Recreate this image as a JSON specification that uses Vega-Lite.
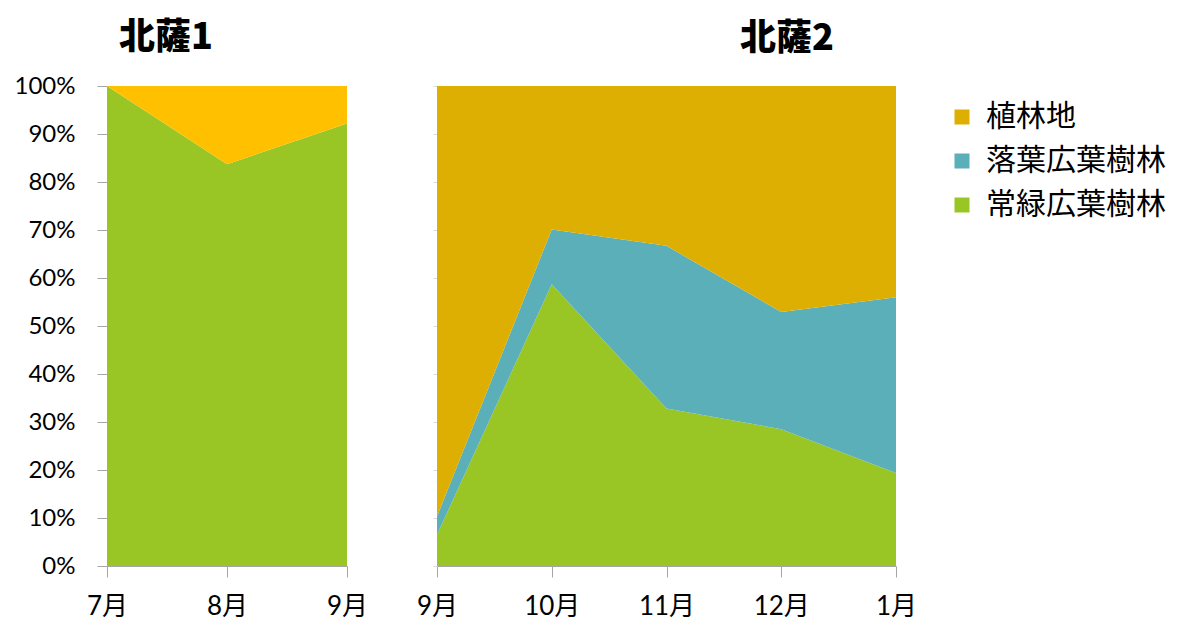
{
  "$schema": "https://vega.github.io/schema/vega-lite/v6.json",
  "padding": {"top": 20, "left": 5, "right": 5, "bottom": 5},
  "background": "white",
  "config": {
    "view": {"stroke": null},
    "font": "Lato",
    "axis": {"domainColor": "#A6A6A6", "tickColor": "#A6A6A6", "labelColor": "#000000", "grid": false, "title": null},
    "area": {"interpolate": "linear"}
  },
  "spacing": 48,
  "resolve": {"scale": {"color": "independent"}},
  "hconcat": [
    {
      "width": 240,
      "height": 480,
      "title": {"text": "北薩1", "anchor": "start", "frame": "group", "dx": 12, "fontSize": 36, "font": "Noto Sans CJK JP", "fontWeight": 900, "offset": 17, "color": "#000000"},
      "data": {"values": [
        {"month": "7月", "type": "常緑広葉樹林", "layer": 1, "share": 1.0},
        {"month": "8月", "type": "常緑広葉樹林", "layer": 1, "share": 0.837},
        {"month": "9月", "type": "常緑広葉樹林", "layer": 1, "share": 0.922},
        {"month": "7月", "type": "植林地", "layer": 3, "share": 0.0},
        {"month": "8月", "type": "植林地", "layer": 3, "share": 0.163},
        {"month": "9月", "type": "植林地", "layer": 3, "share": 0.078}
      ]},
      "mark": {"type": "area"},
      "encoding": {
        "x": {"field": "month", "type": "ordinal", "sort": ["7月", "8月", "9月"], "scale": {"type": "point", "padding": 0},
          "axis": {"labelAngle": 0, "tickSize": 11, "labelPadding": 16, "labelFontSize": 26, "labelFont": "Lato, Noto Sans CJK JP"}},
        "y": {"field": "share", "type": "quantitative", "stack": "zero", "scale": {"domain": [0, 1], "nice": false},
          "axis": {"format": ".0%", "values": [0, 0.1, 0.2, 0.3, 0.4, 0.5, 0.6, 0.7, 0.8, 0.9, 1.0], "tickSize": 10, "labelPadding": 22, "labelFontSize": 24, "minExtent": 102, "maxExtent": 102}},
        "color": {"field": "type", "type": "nominal", "scale": {"domain": ["植林地", "常緑広葉樹林"], "range": ["#FFC000", "#99C625"]}, "legend": null},
        "order": {"field": "layer", "type": "quantitative"}
      }
    },
    {
      "width": 459,
      "height": 480,
      "title": {"text": "北薩2", "anchor": "start", "frame": "group", "dx": 303, "fontSize": 36, "font": "Noto Sans CJK JP", "fontWeight": 900, "offset": 28, "color": "#000000"},
      "data": {"values": [
        {"month": "9月", "type": "常緑広葉樹林", "layer": 1, "share": 0.065},
        {"month": "10月", "type": "常緑広葉樹林", "layer": 1, "share": 0.587},
        {"month": "11月", "type": "常緑広葉樹林", "layer": 1, "share": 0.328},
        {"month": "12月", "type": "常緑広葉樹林", "layer": 1, "share": 0.285},
        {"month": "1月", "type": "常緑広葉樹林", "layer": 1, "share": 0.194},
        {"month": "9月", "type": "落葉広葉樹林", "layer": 2, "share": 0.038},
        {"month": "10月", "type": "落葉広葉樹林", "layer": 2, "share": 0.114},
        {"month": "11月", "type": "落葉広葉樹林", "layer": 2, "share": 0.339},
        {"month": "12月", "type": "落葉広葉樹林", "layer": 2, "share": 0.244},
        {"month": "1月", "type": "落葉広葉樹林", "layer": 2, "share": 0.366},
        {"month": "9月", "type": "植林地", "layer": 3, "share": 0.897},
        {"month": "10月", "type": "植林地", "layer": 3, "share": 0.299},
        {"month": "11月", "type": "植林地", "layer": 3, "share": 0.333},
        {"month": "12月", "type": "植林地", "layer": 3, "share": 0.471},
        {"month": "1月", "type": "植林地", "layer": 3, "share": 0.440}
      ]},
      "mark": {"type": "area"},
      "encoding": {
        "x": {"field": "month", "type": "ordinal", "sort": ["9月", "10月", "11月", "12月", "1月"], "scale": {"type": "point", "padding": 0},
          "axis": {"labelAngle": 0, "tickSize": 11, "labelPadding": 16, "labelFontSize": 26, "labelFont": "Lato, Noto Sans CJK JP"}},
        "y": {"field": "share", "type": "quantitative", "stack": "zero", "scale": {"domain": [0, 1], "nice": false},
          "axis": {"labels": false, "values": [0, 0.1, 0.2, 0.3, 0.4, 0.5, 0.6, 0.7, 0.8, 0.9, 1.0], "tickSize": 4, "tickColor": "#D9D9D9", "domainColor": "#D9D9D9", "minExtent": 5, "maxExtent": 5}},
        "color": {"field": "type", "type": "nominal",
          "scale": {"domain": ["植林地", "落葉広葉樹林", "常緑広葉樹林"], "range": ["#DDAF02", "#5BAFB8", "#99C625"]},
          "legend": {"title": null, "orient": "none", "legendX": 510, "legendY": 16, "symbolType": "square", "symbolSize": 225, "symbolStrokeWidth": 0, "labelFontSize": 30, "labelFont": "Noto Sans CJK JP", "labelColor": "#000000", "rowPadding": 14, "labelOffset": 9, "labelLimit": 300}},
        "order": {"field": "layer", "type": "quantitative"}
      }
    }
  ]
}
